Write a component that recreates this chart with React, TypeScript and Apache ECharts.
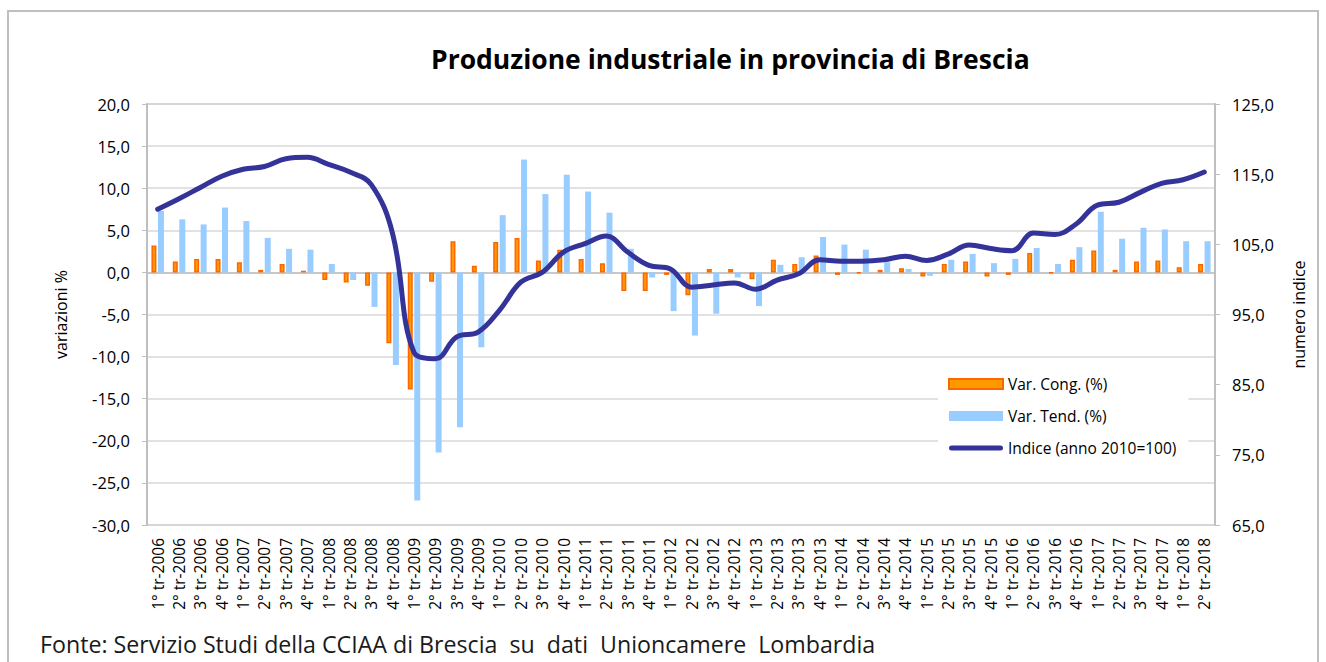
import React, { useEffect, useRef } from "react";
import * as echarts from "echarts";

const categories = [
  "1° tr-2006", "2° tr-2006", "3° tr-2006", "4° tr-2006",
  "1° tr-2007", "2° tr-2007", "3° tr-2007", "4° tr-2007",
  "1° tr-2008", "2° tr-2008", "3° tr-2008", "4° tr-2008",
  "1° tr-2009", "2° tr-2009", "3° tr-2009", "4° tr-2009",
  "1° tr-2010", "2° tr-2010", "3° tr-2010", "4° tr-2010",
  "1° tr-2011", "2° tr-2011", "3° tr-2011", "4° tr-2011",
  "1° tr-2012", "2° tr-2012", "3° tr-2012", "4° tr-2012",
  "1° tr-2013", "2° tr-2013", "3° tr-2013", "4° tr-2013",
  "1° tr-2014", "2° tr-2014", "3° tr-2014", "4° tr-2014",
  "1° tr-2015", "2° tr-2015", "3° tr-2015", "4° tr-2015",
  "1° tr-2016", "2° tr-2016", "3° tr-2016", "4° tr-2016",
  "1° tr-2017", "2° tr-2017", "3° tr-2017", "4° tr-2017",
  "1° tr-2018", "2° tr-2018",
];

const varCong = [
  3.2, 1.3, 1.6, 1.6, 1.2, 0.3, 1.0, 0.2, -0.9, -1.2,
  -1.6, -8.4, -13.9, -1.1, 3.7, 0.8, 3.6, 4.1, 1.4, 2.7,
  1.6, 1.1, -2.2, -2.2, -0.3, -2.7, 0.4, 0.4, -0.8, 1.5,
  1.0, 2.0, -0.3, -0.1, 0.3, 0.5, -0.5, 1.0, 1.3, -0.5,
  -0.3, 2.3, -0.1, 1.5, 2.6, 0.3, 1.3, 1.4, 0.6, 1.0,
];

const varTend = [
  7.3, 6.3, 5.7, 7.7, 6.1, 4.1, 2.8, 2.7, 1.0, -0.9,
  -4.1, -11.0, -27.1, -21.4, -18.4, -8.9, 6.8, 13.4, 9.3, 11.6,
  9.6, 7.1, 2.8, -0.6, -4.6, -7.5, -4.9, -0.6, -4.0, 0.9,
  1.8, 4.2, 3.3, 2.7, 1.2, 0.4, -0.4, 1.5, 2.2, 1.1,
  1.6, 2.9, 1.0, 3.0, 7.2, 4.0, 5.3, 5.1, 3.7, 3.7,
];

const indice = [
  110.0, 111.5, 113.1, 114.7, 115.7, 116.1, 117.2, 117.4, 116.4, 115.3,
  113.5, 106.5, 89.6, 88.7, 91.8, 92.5, 95.6, 99.6, 101.0, 103.9,
  105.1, 106.2, 103.9, 102.0, 101.5, 98.9, 99.2, 99.5, 98.6, 99.9,
  100.8, 102.8, 102.6, 102.6, 102.8, 103.3, 102.7, 103.6, 104.9, 104.4,
  104.1, 106.6, 106.4, 107.9, 110.6, 111.0, 112.4, 113.7, 114.2, 115.3,
];

const leftTicks = { min: -30, max: 20, interval: 5 };
const rightTicks = { min: 65, max: 125, interval: 10 };

const seriesNames = ["Var. Cong. (%)", "Var. Tend. (%)", "Indice (anno 2010=100)"];

const FONT = "'Open Sans', 'Noto Sans', sans-serif";
const fmt = (v: number) => v.toFixed(1).replace(".", ",");

export default function App() {
  const ref = useRef<HTMLDivElement>(null);
  useEffect(() => {
    document.body.style.margin = "0";
    const chart = echarts.init(ref.current!, null, { renderer: "svg" });
    chart.setOption({
      animation: false,
      backgroundColor: "#ffffff",
      textStyle: { fontFamily: FONT },
      title: {
        text: "Produzione industriale in provincia di Brescia",
        left: 426,
        top: 40,
        textStyle: { fontFamily: FONT, fontSize: 26.5, fontWeight: "bold", color: "#000" },
      },
      graphic: [
        {
          type: "rect",
          shape: { x: 8, y: 11, width: 1310, height: 700 },
          style: { fill: "none", stroke: "#bfbfbf", lineWidth: 2 },
          silent: true,
        },
        {
          type: "text",
          left: 40,
          top: 631,
          style: {
            text: "Fonte: Servizio Studi della CCIAA di Brescia  su  dati  Unioncamere  Lombardia",
            fontFamily: FONT,
            fontSize: 23.2,
            lineHeight: 26,
            fill: "#1a1a1a",
          },
        },
      ],
      grid: {
        left: 147,
        right: 111,
        top: 104,
        bottom: 137,
        show: true,
        borderColor: "#bfbfbf",
        borderWidth: 1.5,
        backgroundColor: "transparent",
      },
      legend: {
        orient: "vertical",
        left: 938,
        top: 368,
        backgroundColor: "#ffffff",
        padding: [8, 12, 10, 10],
        itemGap: 16,
        itemWidth: 54,
        itemHeight: 10,
        textStyle: { fontFamily: FONT, fontSize: 15.5, color: "#000" },
        data: [
          { name: seriesNames[0], icon: "rect" },
          { name: seriesNames[1], icon: "rect" },
          {
            name: seriesNames[2],
            icon: "path://M2.5,0 L51.5,0 A2.5,2.5 0 0 1 51.5,5 L2.5,5 A2.5,2.5 0 0 1 2.5,0 Z",
          },
        ],
      },
      xAxis: [
        {
          type: "category",
          data: categories,
          position: "bottom",
          axisLine: { onZero: false, show: false },
          axisTick: { show: false },
          axisLabel: {
            rotate: 90,
            interval: 0,
            fontFamily: FONT,
            fontSize: 15.5,
            color: "#000",
            margin: 13,
          },
          splitLine: { show: false },
        },
        {
          type: "category",
          data: categories,
          position: "bottom",
          axisLine: { show: true, onZero: true, onZeroAxisIndex: 0, lineStyle: { color: "#bfbfbf", width: 1.5 } },
          axisTick: { show: false },
          axisLabel: { show: false },
          splitLine: { show: false },
        },
      ],
      yAxis: [
        {
          type: "value",
          min: leftTicks.min,
          max: leftTicks.max,
          interval: leftTicks.interval,
          name: "variazioni %",
          nameLocation: "middle",
          nameRotate: 90,
          nameGap: 78,
          nameTextStyle: { fontFamily: FONT, fontSize: 16, color: "#000" },
          axisLine: { show: true, lineStyle: { color: "#bfbfbf", width: 2 } },
          axisTick: { show: true, length: 5, lineStyle: { color: "#bfbfbf" } },
          axisLabel: { formatter: fmt, fontFamily: FONT, fontSize: 16.5, color: "#000", margin: 17 },
          splitLine: { show: true, lineStyle: { color: "#d9d9d9", width: 1.5 } },
        },
        {
          type: "value",
          min: rightTicks.min,
          max: rightTicks.max,
          interval: rightTicks.interval,
          position: "right",
          name: "numero indice",
          nameLocation: "middle",
          nameRotate: 90,
          nameGap: 76,
          nameTextStyle: { fontFamily: FONT, fontSize: 16, color: "#000" },
          axisLine: { show: true, lineStyle: { color: "#bfbfbf", width: 2 } },
          axisTick: { show: true, length: 5, lineStyle: { color: "#bfbfbf" } },
          axisLabel: { formatter: fmt, fontFamily: FONT, fontSize: 16.5, color: "#000", margin: 17 },
          splitLine: { show: false },
        },
      ],
      series: [
        {
          name: seriesNames[0],
          type: "bar",
          xAxisIndex: 0,
          yAxisIndex: 0,
          data: varCong,
          barWidth: 5,
          barGap: "30%",
          itemStyle: { color: "#FF9900", borderColor: "#FF6600", borderWidth: 1.5 },
          z: 2,
        },
        {
          name: seriesNames[1],
          type: "bar",
          xAxisIndex: 0,
          yAxisIndex: 0,
          data: varTend,
          barWidth: 6,
          itemStyle: { color: "#99CCFF" },
          z: 2,
        },
        {
          name: seriesNames[2],
          type: "line",
          xAxisIndex: 0,
          yAxisIndex: 1,
          data: indice,
          smooth: 0.4,
          symbol: "none",
          lineStyle: { color: "#333399", width: 5, cap: "round" },
          itemStyle: { color: "#333399" },
          z: 5,
        },
      ],
    });
    return () => chart.dispose();
  }, []);
  return <div ref={ref} style={{ width: 1326, height: 662 }} />;
}
